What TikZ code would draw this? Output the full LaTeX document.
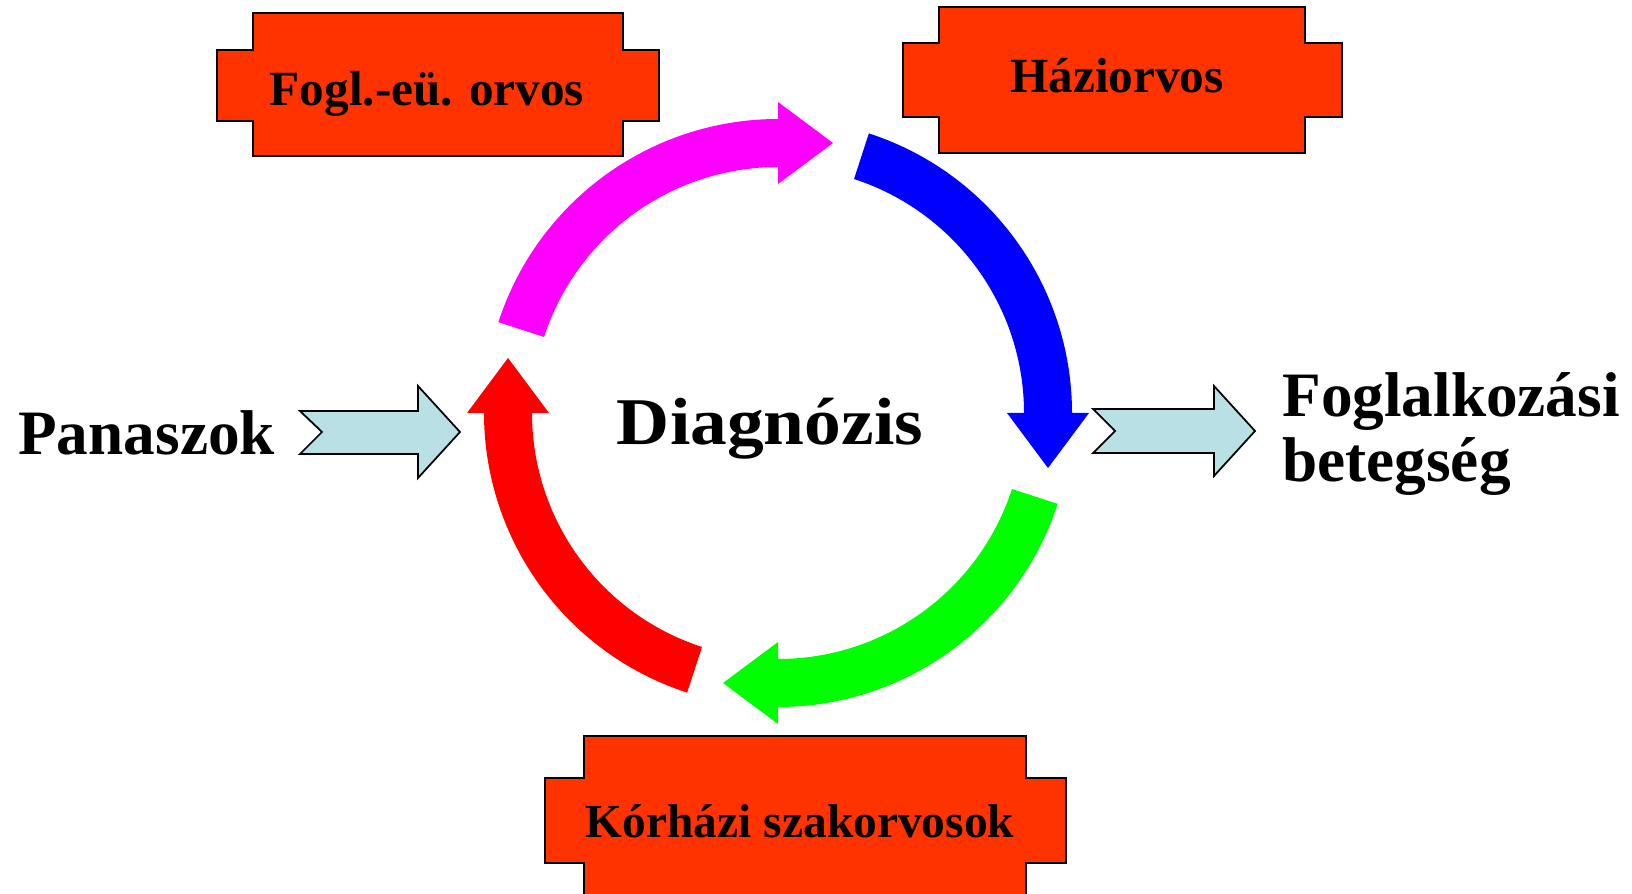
\documentclass[tikz,border=0pt]{standalone}
\usepackage{fontspec}
\setmainfont{Liberation Serif}
\newfontfamily\widefont[FakeStretch=1.1]{Liberation Serif}
\usetikzlibrary{calc}
\definecolor{boxred}{RGB}{255,51,0}
\definecolor{paleblue}{RGB}{185,224,228}
\definecolor{arcmagenta}{RGB}{255,0,255}
\definecolor{arcblue}{RGB}{0,0,255}
\definecolor{arcgreen}{RGB}{0,255,0}
\definecolor{arcred}{RGB}{255,0,0}

\begin{document}
\begin{tikzpicture}[x=0.02cm, y=0.02cm,
    orvos/.style={fill=boxred, draw=black, line width=1.2pt},
    side/.style={fill=paleblue, draw=black, line width=1pt},
    boxtext/.style={inner sep=0pt, font=\bfseries\fontsize{28}{30}\selectfont},
    bigtext/.style={inner sep=0pt, font=\bfseries\fontsize{36}{37}\selectfont}]
      \clip (0,0) rectangle (1632,893);
      \coordinate (kor) at (778,480);

      % Draw the three doctor boxes
      \filldraw[orvos] (253,880) -- (623,880) -- (623,843) -- (659,843) -- (659,772) -- (623,772)
        -- (623,737) -- (253,737) -- (253,772) -- (217,772) -- (217,843) -- (253,843) -- cycle;
      \filldraw[orvos] (939,886) -- (1305,886) -- (1305,850) -- (1342,850) -- (1342,776) -- (1305,776)
        -- (1305,740) -- (939,740) -- (939,776) -- (903,776) -- (903,850) -- (939,850) -- cycle;
      \filldraw[orvos] (584,157) -- (1026,157) -- (1026,115) -- (1066,115) -- (1066,30) -- (1026,30)
        -- (1026,-5) -- (584,-5) -- (584,30) -- (545,30) -- (545,115) -- (584,115) -- cycle;
      \node[boxtext, anchor=base] (fogl) at (427,787) {Fogl.-eü. orvos};
      \node[boxtext, anchor=base] (haziorvos) at (1117,800) {Háziorvos};
      \node[boxtext, anchor=base, font=\bfseries\fontsize{27}{30}\selectfont] (korhazi) at (800,56) {Kórházi szakorvosok};

      % Draw the cycle arrows
      \fill[arcmagenta] ($(kor)+(162:294)$) arc[start angle=162, end angle=90, radius=294]
        -- ($(kor)+(90:311)$) -- ($(kor)+(90:270)+(0:55)$) -- ($(kor)+(90:229)$)
        -- ($(kor)+(90:246)$) arc[start angle=90, end angle=162, radius=246] -- cycle;
      \fill[arcblue] ($(kor)+(72:294)$) arc[start angle=72, end angle=0, radius=294]
        -- ($(kor)+(0:311)$) -- ($(kor)+(0:270)+(-90:55)$) -- ($(kor)+(0:229)$)
        -- ($(kor)+(0:246)$) arc[start angle=0, end angle=72, radius=246] -- cycle;
      \fill[arcgreen] ($(kor)+(-18:294)$) arc[start angle=-18, end angle=-90, radius=294]
        -- ($(kor)+(-90:311)$) -- ($(kor)+(-90:270)+(180:55)$) -- ($(kor)+(-90:229)$)
        -- ($(kor)+(-90:246)$) arc[start angle=-90, end angle=-18, radius=246] -- cycle;
      \fill[arcred] ($(kor)+(252:294)$) arc[start angle=252, end angle=180, radius=294]
        -- ($(kor)+(180:311)$) -- ($(kor)+(180:270)+(90:55)$) -- ($(kor)+(180:229)$)
        -- ($(kor)+(180:246)$) arc[start angle=180, end angle=252, radius=246] -- cycle;

      \node[inner sep=0pt, anchor=base, font=\widefont\bfseries\fontsize{38}{40}\selectfont] (diagnozis) at (770,448) {Diagnózis};

      % Input and output
      \node[bigtext, anchor=base west] (panaszok) at (18,438) {Panaszok};
      \filldraw[side] (300,482) -- (418,482) -- (418,507) -- (460,461) -- (418,415) -- (418,439)
        -- (300,439) -- (322,461) -- cycle;
      \filldraw[side] (1093,484) -- (1214,484) -- (1214,507) -- (1255,462) -- (1214,417) -- (1214,440)
        -- (1093,440) -- (1115,462) -- cycle;
      \node[bigtext, anchor=base west, align=left] (foglalkozasi) at (1282,411) {Foglalkozási\\betegség};

\end{tikzpicture}
\end{document}
